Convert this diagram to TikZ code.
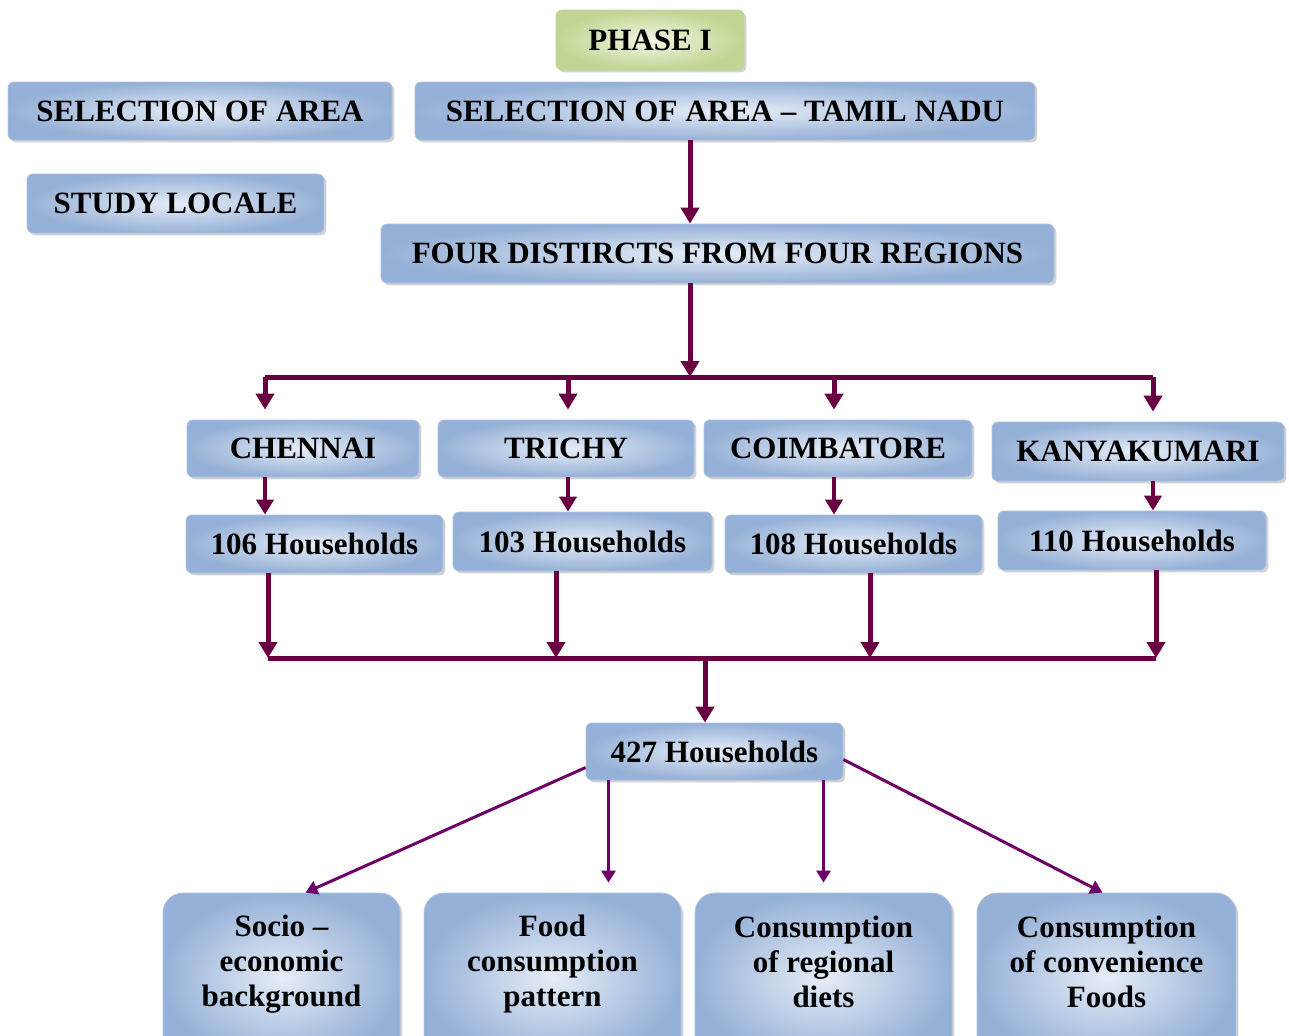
\documentclass[tikz,border=0pt]{standalone}
\usepackage{fontspec}
\setmainfont{Liberation Serif}
\usepackage{tikz}
\usetikzlibrary{arrows.meta,shadows,calc}
\definecolor{boxlight}{RGB}{230,237,247}
\definecolor{boxdark}{RGB}{150,177,215}
\definecolor{greenlight}{RGB}{242,247,228}
\definecolor{greendark}{RGB}{192,213,146}
\definecolor{flowc}{RGB}{104,0,66}
\definecolor{lowc}{RGB}{108,0,104}

\begin{document}
\begin{tikzpicture}[x=0.5pt,y=-0.5pt,
  box/.style={rounded corners=3pt, inner sep=0pt, draw=boxdark!80, line width=0.4pt,
    inner color=boxlight, outer color=boxdark,
    drop shadow={shadow xshift=1.2pt, shadow yshift=-1.2pt, opacity=.35},
    font=\bfseries\fontsize{15.5}{17.5}\selectfont},
  greenbox/.style={box, draw=greendark, inner color=greenlight, outer color=greendark},
  lowbox/.style={box, rounded corners=10pt},
  lowtext/.style={align=center, inner sep=0pt, font=\bfseries\fontsize{15.5}{17.5}\selectfont},
  flow/.style={draw=flowc, line width=2.5pt, -{Triangle[width=9pt,length=8pt]}},
  shortflow/.style={draw=flowc, line width=2pt, -{Triangle[width=8.5pt,length=7.5pt]}},
  bus/.style={draw=flowc, line width=2.5pt},
  lowarrow/.style={draw=lowc, line width=1.5pt, -{Triangle[width=7pt,length=6pt]}}]
\useasboundingbox (0,0) rectangle (1289,1035);
\clip (0,0) rectangle (1289,1035);

\node[greenbox, minimum width=94pt, minimum height=30pt] (phase) at (650,40) {PHASE I};
\node[box, minimum width=192pt, minimum height=29pt] (sell) at (200,111) {SELECTION OF AREA};
\node[box, minimum width=310pt, minimum height=29pt] (seltn) at (725,111) {SELECTION OF AREA -- TAMIL NADU};
\node[box, minimum width=148.5pt, minimum height=29.5pt] (study) at (175.5,203.5) {STUDY LOCALE};
\node[box, minimum width=336.5pt, minimum height=29.5pt] (four) at (717.5,253.5) {FOUR DISTIRCTS FROM FOUR REGIONS};

\node[box, minimum width=116pt, minimum height=28.5pt] (chennai) at (303,448.5) {CHENNAI};
\node[box, minimum width=128pt, minimum height=28.5pt] (trichy) at (566,448.5) {TRICHY};
\node[box, minimum width=134pt, minimum height=28.5pt] (coimb) at (838,448.5) {COIMBATORE};
\node[box, minimum width=146pt, minimum height=29.5pt] (kanya) at (1138,451.5) {KANYAKUMARI};

\node[box, minimum width=128.5pt, minimum height=29pt] (h106) at (314.5,544) {106 Households};
\node[box, minimum width=129.5pt, minimum height=29.5pt] (h103) at (582.5,541.5) {103 Households};
\node[box, minimum width=128.5pt, minimum height=29pt] (h108) at (853.5,544) {108 Households};
\node[box, minimum width=134pt, minimum height=29.5pt] (h110) at (1132,540.5) {110 Households};

\node[box, minimum width=128.5pt, minimum height=28.5pt] (h427) at (714.5,751.5) {427 Households};

\node[lowbox, minimum width=118.5pt, minimum height=85pt] (socio) at (281.5,978) {};
\node[lowbox, minimum width=128.5pt, minimum height=85pt] (food) at (552.5,978) {};
\node[lowbox, minimum width=128.5pt, minimum height=85pt] (regional) at (823.5,978) {};
\node[lowbox, minimum width=129.5pt, minimum height=85pt] (conv) at (1106.5,978) {};
\node[lowtext] (sociot) at (281.5,964) {Socio --\\economic\\background};
\node[lowtext] (foodt) at (552.5,964) {Food\\consumption\\pattern};
\node[lowtext] (regionalt) at (823.5,962) {Consumption\\of regional\\diets};
\node[lowtext] (convt) at (1106.5,962) {Consumption\\of convenience\\Foods};

\coordinate (d0) at (690,377);
\coordinate (d1) at (265,377);
\coordinate (d2) at (568,377);
\coordinate (d3) at (834,377);
\coordinate (d4) at (1153,377);
\coordinate (m0) at (705,658);
\coordinate (m1) at (268,658);
\coordinate (m2) at (556,658);
\coordinate (m3) at (870,658);
\coordinate (m4) at (1156,658);

\draw[flow] (d0 |- seltn.south) -- (d0 |- four.north);
\draw[flow] (d0 |- four.south) -- (d0);
\draw[bus] (d1) -- (d4);
\foreach \d/\n in {d1/chennai,d2/trichy,d3/coimb,d4/kanya}
  \draw[flow, shorten >=5pt] (\d) -- (\d |- \n.north);
\draw[shortflow] (d1 |- chennai.south) -- (d1 |- h106.north);
\draw[shortflow] (d2 |- trichy.south) -- (d2 |- h103.north);
\draw[shortflow] (d3 |- coimb.south) -- (d3 |- h108.north);
\draw[shortflow] (d4 |- kanya.south) -- (d4 |- h110.north);

\foreach \m/\n in {m1/h106,m2/h103,m3/h108,m4/h110}
  \draw[flow] (\m |- \n.south) -- (\m);
\draw[bus] (m1) -- (m4);
\draw[flow] (m0) -- (m0 |- h427.north);

\draw[lowarrow] ([yshift=-8pt]h427.west) -- ([xshift=12pt]socio.north);
\draw[lowarrow, shorten >=5pt] ([xshift=-53pt]h427.south) -- ([xshift=-53pt]h427.south |- food.north);
\draw[lowarrow, shorten >=5pt] (regional.north |- h427.south) -- (regional.north);
\draw[lowarrow] ([yshift=-4pt]h427.east) -- ([xshift=-2pt]conv.north);
\end{tikzpicture}
\end{document}
